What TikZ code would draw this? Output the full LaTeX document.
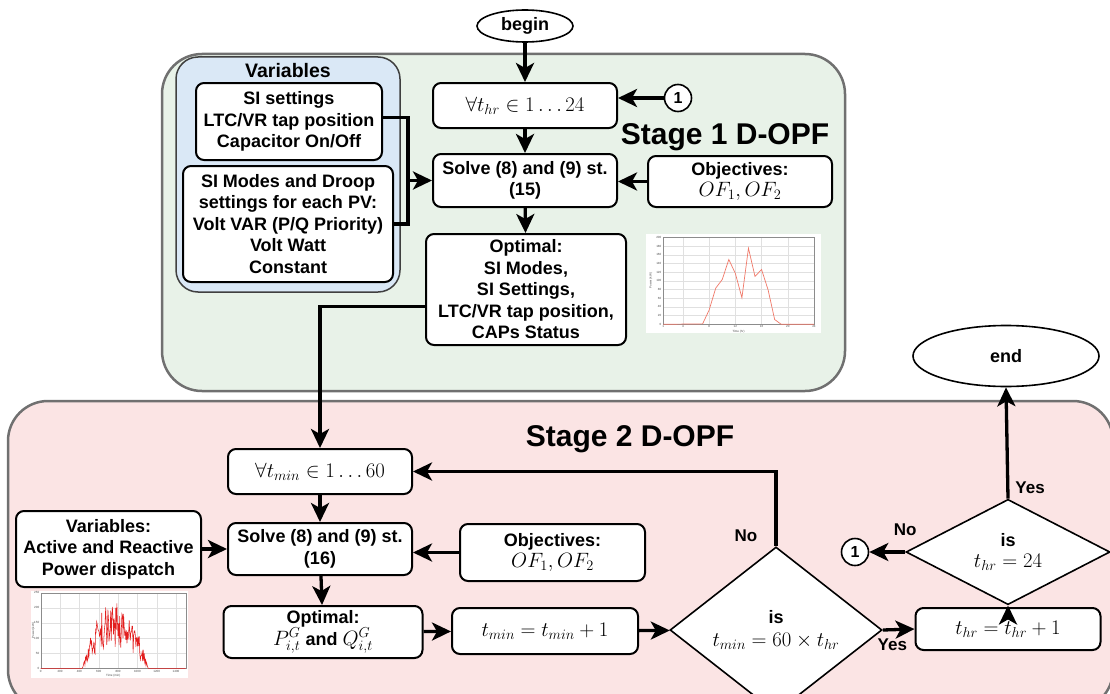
\documentclass[tikz,border=0pt]{standalone}
\usepackage{fontspec}
\setmainfont{Liberation Sans}
\usepackage{tikz}
\usetikzlibrary{arrows.meta,shapes.geometric}
\definecolor{stageone}{HTML}{E8F2E8}
\definecolor{stagetwo}{HTML}{FBE4E4}
\definecolor{varfill}{HTML}{DAE8F6}
\definecolor{frame}{HTML}{707070}
\definecolor{pvline}{HTML}{F07868}
\definecolor{pvdense}{HTML}{E21E1E}
\newcommand{\mbig}{\fontsize{22}{25}\selectfont}
\tikzset{
  stagebox/.style={rounded corners=40pt, draw=frame, line width=2.5pt},
  stagetitle/.style={font=\bfseries\fontsize{30}{34}\selectfont},
  groupbox/.style={rounded corners=22pt, draw=black!75, line width=1.5pt, fill=varfill},
  nodebox/.style={
    rounded corners=8pt,
    draw=black,
    line width=2pt,
    fill=white,
    align=center,
    font=\bfseries\fontsize{18}{21.5}\selectfont,
    inner sep=0pt
  },
  terminal/.style={ellipse, draw=black, line width=1.6pt, fill=white, font=\bfseries\fontsize{18}{21}\selectfont, inner sep=0pt},
  decision/.style={diamond, draw=black, line width=1.6pt, fill=white, align=center, font=\bfseries\fontsize{18}{21}\selectfont, inner sep=0pt},
  connector/.style={circle, draw=black, line width=1.6pt, fill=white, font=\bfseries\fontsize{16}{18}\selectfont, minimum size=27pt, inner sep=0pt},
  flow/.style={line width=3.3pt, draw=black, -{Stealth[length=19pt,width=18pt,inset=5pt]}},
  link/.style={line width=3.3pt, draw=black},
  answer/.style={font=\bfseries\fontsize{17}{20}\selectfont, inner sep=1pt},
  plotgrid/.style={draw=black!12, line width=0.3pt},
  plotaxes/.style={draw=black!45, line width=0.3pt},
  ticklbl/.style={font=\fontsize{3}{3.5}\selectfont, text=black!70, inner sep=0.5pt}
}

\begin{document}
\begin{tikzpicture}[x=1pt,y=-1pt]
\path[use as bounding box] (0,0) rectangle (1110,693);

% stages
\draw[stagebox, fill=stageone] (162,54) rectangle (845,391);
\draw[stagebox, fill=stagetwo] (8,401) rectangle (1113,710);
\draw[groupbox] (176,57) rectangle (400,292);

\node[stagetitle] (st1) at (725,137) {Stage 1 D-OPF};
\node[stagetitle] (st2) at (630,439) {Stage 2 D-OPF};
\node[font=\bfseries\fontsize{19.5}{22}\selectfont] (vartitle) at (288,71) {Variables};

% hourly PV profile
\fill[white] (646,234) rectangle (821,333);
\begin{scope}[shift={(656.75,324.3)}, x=6.55pt, y=0.435pt]
  \foreach \h in {1,4,8,12,16,20,24} {
    \draw[plotgrid] (\h,0) -- (\h,200);
    \node[ticklbl, anchor=north] at (\h,-2) {\h};
  }
  \foreach \p in {0,20,...,200} {
    \draw[plotgrid] (1,\p) -- (24,\p);
    \node[ticklbl, anchor=east] at (0.8,\p) {\p};
  }
  \draw[plotaxes] (1,0) rectangle (24,200);
  \draw[pvline, line width=0.7pt] plot coordinates {(1,0) (7,1) (8,33) (9,83) (10,103) (11,149) (12,117) (13,61) (14,175) (15,110) (16,126) (17,79) (18,11) (19,0) (24,0)};
  \node[ticklbl] (hrlbl) at (12.5,-16) {Time (hr)};
  \node[ticklbl, rotate=90] (pwlbl) at (-0.9,100) {Power (kW)};
\end{scope}

% minute PV profile
\pgfmathsetseed{11}
\fill[white] (31,591) rectangle (188,678);
\begin{scope}[shift={(40.7,668.3)}, x=0.0967pt, y=0.3024pt]
  \foreach \m in {0,200,...,1400} {
    \draw[plotgrid] (\m,0) -- (\m,250);
    \node[ticklbl, anchor=north] at (\m,-4) {\m};
  }
  \foreach \p in {0,50,...,250} {
    \draw[plotgrid] (0,\p) -- (1500,\p);
    \node[ticklbl, anchor=east] at (-8,\p) {\p};
  }
  \draw[plotaxes] (0,0) rectangle (1500,250);
  \draw[pvdense, line width=0.55pt] plot[domain=0:1500, samples=260]
    (\x,{max(0,1-((\x-770)/340)^2)*232*(0.3+0.7*rnd)});
  \node[ticklbl] (minlbl) at (750,-24) {Time (min)};
  \node[ticklbl, rotate=90] (pw2lbl) at (-75,125) {Power (kW)};
\end{scope}

% stage 1
\node[terminal, minimum width=96pt, minimum height=32pt] (begin) at (525,26) {begin};
\node[nodebox, minimum width=184pt, minimum height=45pt] (forhr) at (525,105.5) {\mbig$\forall t_{hr}\in 1\ldots 24$};
\node[nodebox, minimum width=184pt, minimum height=53pt] (solve1) at (525,180.5) {Solve (8) and (9) st.\\(15)};
\node[nodebox, minimum width=200pt, minimum height=111pt] (opt1) at (526,289.5) {Optimal:\\SI Modes,\\SI Settings,\\LTC/VR tap position,\\CAPs Status};
\node[nodebox, minimum width=184pt, minimum height=51pt] (obj1) at (740,181.5) {Objectives:\\{\mbig$OF_1,OF_2$}};
\node[connector] (cone) at (678,98) {1};
\node[nodebox, minimum width=186pt, minimum height=77pt] (si1) at (289,121.5) {SI settings\\LTC/VR tap position\\Capacitor On/Off};
\node[nodebox, minimum width=210pt, minimum height=116pt] (si2) at (288,224) {SI Modes and Droop\\settings for each PV:\\Volt VAR (P/Q Priority)\\Volt Watt\\Constant};
\coordinate (brk) at (408,180.5);

% stage 2
\node[nodebox, minimum width=184pt, minimum height=45pt] (formin) at (320,471.5) {\mbig$\forall t_{min}\in 1\ldots 60$};
\node[nodebox, minimum width=184pt, minimum height=52pt] (solve2) at (320,549) {Solve (8) and (9) st.\\(16)};
\node[nodebox, minimum width=185pt, minimum height=76pt] (vars2) at (108.5,549) {Variables:\\Active and Reactive\\Power dispatch};
\node[nodebox, minimum width=199pt, minimum height=52pt] (opt2) at (323,632) {Optimal:\\{\mbig$P^G_{i,t}$} and {\mbig$Q^G_{i,t}$}};
\node[nodebox, minimum width=185pt, minimum height=57pt] (obj2) at (552.5,552.5) {Objectives:\\{\mbig$OF_1,OF_2$}};
\node[nodebox, minimum width=186pt, minimum height=46pt] (tmin) at (545,631) {\mbig$t_{min}=t_{min}+1$};
\node[decision, minimum width=212pt, minimum height=120pt] (dia1) at (776,630) {is\\[2pt]{\mbig$t_{min}=60\times t_{hr}$}};
\node[nodebox, minimum width=185pt, minimum height=42pt] (thr) at (1008,629) {\mbig$t_{hr}=t_{hr}+1$};
\node[decision, minimum width=204pt, minimum height=65pt] (dia2) at (1008,552) {is\\{\mbig$t_{hr}=24$}};
\node[connector] (ctwo) at (855,552) {1};
\node[terminal, minimum width=186pt, minimum height=61pt] (end) at (1006,356) {end};

% connectors
\foreach \a/\b in {begin/forhr,forhr/solve1,solve1/opt1,formin/solve2,solve2/opt2,vars2/solve2,opt2/tmin,tmin/dia1,thr/dia2}
  \draw[flow] (\a) -- (\b);

\draw[flow] (cone) -- (cone -| forhr.east);
\draw[flow] (obj1) -- (obj1 -| solve1.east);
\draw[flow] (obj2) -- (obj2 -| solve2.east);
\draw[link] ([yshift=4pt]si1.east) -| (brk) |- (si2.east);
\draw[flow] (brk) -- (solve1.west);
\draw[flow] ([yshift=-17pt]opt1.west) -| (formin.north);
\draw[flow] (dia1.north) |- (formin.east) node[answer, pos=0.07, left=16pt] {No};
\draw[flow] (dia1.east) -- (thr.west) node[answer, pos=0.3, below=6pt] {Yes};
\draw[flow] (dia2.west) -- (ctwo) node[answer, at start, above=14pt] {No};
\draw[flow] (dia2.north) -- (end.south) node[answer, pos=0.1, right=5pt] {Yes};
\end{tikzpicture}
\end{document}
